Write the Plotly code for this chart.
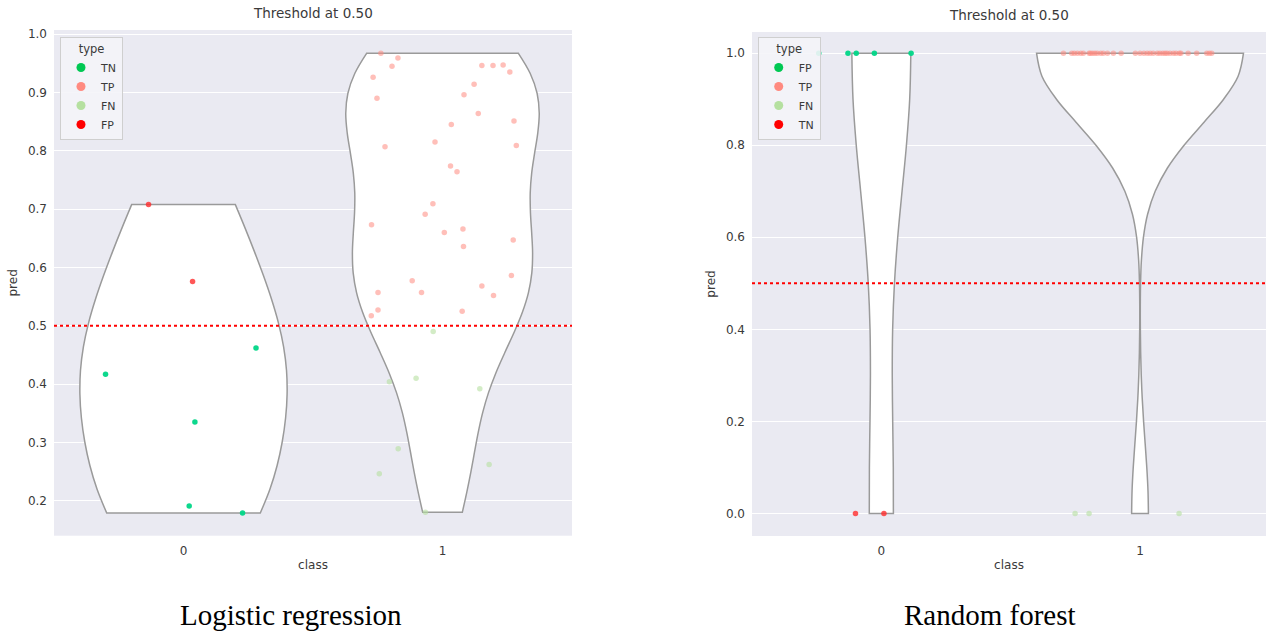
import numpy as np
import plotly.graph_objects as go

# ---------------- data: logistic regression ----------------
lr_class = [0, 0, 0, 0, 0, 0, 0,
            1, 1, 1, 1, 1, 1, 1, 1, 1, 1, 1, 1, 1, 1, 1, 1, 1, 1, 1, 1, 1, 1, 1, 1, 1, 1, 1, 1, 1, 1, 1, 1, 1, 1, 1,
            1, 1, 1, 1, 1, 1, 1, 1]
lr_type = ["FP", "FP", "TN", "TN", "TN", "TN", "TN"] + \
          ["TP"] * 35 + ["FN"] * 8
lr_pred = [0.708, 0.576, 0.462, 0.417, 0.335, 0.191, 0.179,
           0.967, 0.959, 0.945, 0.926, 0.946, 0.946, 0.947, 0.935, 0.914, 0.896,
           0.890, 0.864, 0.851, 0.845, 0.815, 0.809, 0.807, 0.774, 0.764, 0.709,
           0.691, 0.673, 0.660, 0.666, 0.636, 0.647, 0.577, 0.557, 0.557, 0.586,
           0.568, 0.552, 0.527, 0.517, 0.525,
           0.490, 0.404, 0.410, 0.392, 0.289, 0.246, 0.262, 0.180]
lr_jitter = [-0.135, 0.035, 0.280, -0.301, 0.044, 0.022, 0.228,
             -0.238, -0.172, -0.195, -0.268, 0.152, 0.195, 0.234, 0.260, 0.122, 0.083,
             -0.253, 0.138, 0.276, 0.034, -0.029, 0.285, -0.222, 0.031, 0.056, -0.037,
             -0.067, -0.274, 0.007, 0.079, 0.081, 0.273, -0.117, -0.081, -0.249, 0.266,
             0.152, 0.197, -0.249, -0.275, 0.076,
             -0.036, -0.205, -0.102, 0.144, -0.171, -0.244, 0.180, -0.066]
lr_hue_order = ["TN", "TP", "FN", "FP"]

# ---------------- data: random forest ----------------
rf_class = [0, 0, 0, 0, 0, 0, 0] + \
           [1, 1, 1, 1, 1, 1, 1, 1, 1, 1, 1, 1, 1, 1, 1, 1, 1, 1, 1, 1, 1, 1, 1, 1, 1, 1, 1, 1, 1, 1, 1, 1, 1, 1, 1, 1, 1] + \
           [1, 1, 1]
rf_type = ["FP", "FP", "FP", "FP", "FP", "TN", "TN"] + ["TP"] * 37 + ["FN"] * 3
rf_pred = [1.0, 1.0, 1.0, 1.0, 1.0, 0.0, 0.0,
           1.0, 1.0, 1.0, 1.0, 1.0, 1.0, 1.0, 1.0, 1.0, 1.0, 1.0, 1.0, 1.0, 1.0, 1.0, 1.0, 1.0, 1.0,
           1.0, 1.0, 1.0, 1.0, 1.0, 1.0, 1.0, 1.0, 1.0, 1.0, 1.0, 1.0, 1.0, 1.0, 1.0, 1.0, 1.0, 1.0, 1.0,
           0.0, 0.0, 0.0]
rf_jitter = [-0.242, -0.129, -0.097, -0.027, 0.115, -0.100, 0.010,
             -0.296, -0.264, -0.254, -0.242, -0.229, -0.219, -0.197, -0.191, -0.183, -0.174,
             -0.165, -0.152, -0.142, -0.126, -0.103, -0.073, -0.018, 0.000, 0.015, 0.028,
             0.039, 0.051, 0.067, 0.077, 0.088, 0.097, 0.105, 0.116, 0.129, 0.139, 0.152,
             0.158, 0.186, 0.219, 0.258, 0.268, 0.277,
             -0.251, -0.197, 0.151]
rf_hue_order = ["FP", "TP", "FN", "TN"]

threshold = 0.5
classes = [0, 1]
class_labels = ["0", "1"]
lr_yticks = [0.2, 0.3, 0.4, 0.5, 0.6, 0.7, 0.8, 0.9, 1.0]
rf_yticks = [0.0, 0.2, 0.4, 0.6, 0.8, 1.0]

# ---------------- styles ----------------
legend_palette = ["#00c853", "#ff8a80", "#b5e0a0", "#ff0000"]
point_palette = ["rgba(0,214,135,0.95)", "rgba(255,138,128,0.55)",
                 "rgba(181,224,160,0.6)", "rgba(255,45,45,0.8)"]
W, H = 1266, 632
FONT = "DejaVu Sans"
TXT = "#3a3a3a"


def px(x):
    return x / W


def py(y):
    return 1 - y / H


fig = go.Figure()


def scott(v):
    v = np.asarray(v, float)
    return float(np.std(v, ddof=1) * len(v) ** (-0.2))


def add_panel(pred, cls, typ, jit, hue_order, xa, ya, legend_name, widths, bw_adjust, tag):
    pred = np.asarray(pred, float)
    cls = np.asarray(cls)
    typ = np.asarray(typ)
    jit = np.asarray(jit, float)
    for k, c in enumerate(classes):
        vals = pred[cls == c]
        fig.add_trace(go.Violin(
            y=vals, x0=c, xaxis=xa, yaxis=ya, orientation="v",
            points=False, spanmode="hard", bandwidth=scott(vals) * bw_adjust[k],
            width=widths[k], scalemode="width", scalegroup=f"{tag}{c}",
            fillcolor="white", line=dict(color="#9a9a9a", width=1.5),
            box_visible=False, meanline_visible=False, showlegend=False,
            hoverinfo="skip"))
    for i, t in enumerate(hue_order):
        m = typ == t
        fig.add_trace(go.Scatter(
            x=cls[m] + jit[m], y=pred[m], xaxis=xa, yaxis=ya, mode="markers",
            marker=dict(size=5.5, color=point_palette[i], line=dict(width=0)),
            showlegend=False, hoverinfo="skip"))
    for i, t in enumerate(hue_order):
        fig.add_trace(go.Scatter(
            x=[None], y=[None], xaxis=xa, yaxis=ya, mode="markers", name=t,
            marker=dict(size=9, color=legend_palette[i]),
            legend=legend_name, showlegend=True))


add_panel(lr_pred, lr_class, lr_type, lr_jitter, lr_hue_order, "x", "y", "legend",
          [0.80, 0.747], [1.0, 1.0], "lr")
add_panel(rf_pred, rf_class, rf_type, rf_jitter, rf_hue_order, "x2", "y2", "legend2",
          [0.228, 0.80], [1.0, 1.2], "rf")

tickfont = dict(family=FONT, size=12, color=TXT)
titlefont = dict(family=FONT, size=12, color=TXT)


def xaxis(domain, rng, anchor):
    return dict(domain=domain, range=rng, tickvals=classes, ticktext=class_labels,
                showgrid=False, zeroline=False, showline=False, ticks="",
                tickfont=tickfont, ticklabelstandoff=6, anchor=anchor,
                title=dict(text="class", font=titlefont, standoff=3), automargin=False)


def yaxis(domain, rng, tv, anchor):
    return dict(domain=domain, range=rng, tickvals=tv, tickformat=".1f",
                showgrid=True, gridcolor="white", gridwidth=1.3, zeroline=False,
                showline=False, ticks="", tickfont=tickfont, ticklabelstandoff=6,
                anchor=anchor,
                title=dict(text="pred", font=titlefont, standoff=7), automargin=False)


legend_style = dict(xanchor="left", yanchor="top", bgcolor="rgba(244,244,248,0.9)",
                    bordercolor="#cfcfcf", borderwidth=1,
                    font=dict(family=FONT, size=11, color=TXT),
                    title=dict(text="type", side="top center",
                               font=dict(family=FONT, size=11.5, color=TXT)),
                    itemwidth=30, tracegroupgap=0)

fig.update_layout(
    width=W, height=H, margin=dict(l=0, r=0, t=0, b=0),
    paper_bgcolor="white", plot_bgcolor="#eaeaf2",
    font=dict(family=FONT, color=TXT),
    xaxis=xaxis([px(54), px(572)], [-0.5, 1.5], "y"),
    yaxis=yaxis([py(535.7), py(30)], [0.140, 1.007], lr_yticks, "x"),
    xaxis2=xaxis([px(752), 1.0], [-0.5, 1.487], "y2"),
    yaxis2=yaxis([py(536), py(32)], [-0.049, 1.046], rf_yticks, "x2"),
    legend=dict(x=px(60), y=py(37), **legend_style),
    legend2=dict(x=px(757.7), y=py(37), **legend_style),
)

for xa, ya in [("x", "y"), ("x2", "y2")]:
    fig.add_shape(type="line", xref=f"{xa} domain", yref=ya, x0=0, x1=1,
                  y0=threshold, y1=threshold,
                  line=dict(color="red", width=2, dash="dot"), layer="above")
    fig.add_annotation(text=f"Threshold at {threshold:.2f}", xref=f"{xa} domain",
                       yref=f"{ya} domain", x=0.5, y=1, yanchor="bottom", yshift=7,
                       showarrow=False, font=dict(family=FONT, size=13.5, color=TXT))

captions = ["Logistic regression", "Random forest"]
caption_x = [px(291), px(989.5)]
for txt, cx in zip(captions, caption_x):
    fig.add_annotation(text=txt, xref="paper", yref="paper", x=cx, y=py(615),
                       xanchor="center", yanchor="middle", showarrow=False,
                       font=dict(family="Liberation Serif", size=29, color="black"))

fig.write_html(
    "out.html",
    config={"displayModeBar": False},
    post_script="document.body.style.margin='0px';document.body.style.overflow='hidden';",
)
